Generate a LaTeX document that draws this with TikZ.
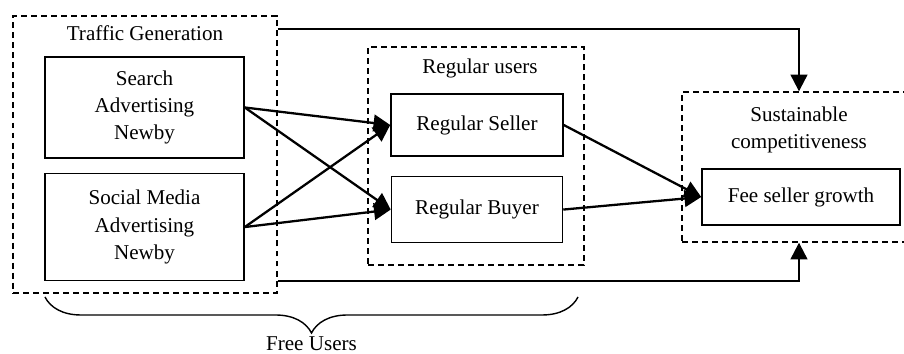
\documentclass[tikz,border=0pt]{standalone}
\usepackage{fontspec}
\setmainfont{Liberation Serif}
\usetikzlibrary{arrows.meta, positioning, decorations.pathreplacing}

\begin{document}
\begin{tikzpicture}[
    x=0.02cm, y=-0.02cm,
    font=\fontsize{12}{15.5}\selectfont,
    box/.style={rectangle, draw, line width=0.9pt, align=center, inner sep=0pt},
    group/.style={rectangle, draw, dash pattern=on 3.4pt off 2.3pt, line width=0.8pt, inner sep=0pt},
    arrow/.style={-{Triangle[length=9.5pt, width=9.5pt]}, line width=1.3pt}
]
\useasboundingbox (0,0) rectangle (904,354);

% dashed groups
\node[group, minimum width=5.28cm, minimum height=5.54cm] (traffic) at (145,154.5) {};
\node[group, minimum width=4.32cm, minimum height=4.36cm] (regular) at (476,156) {};
\node[group, minimum width=4.68cm, minimum height=3.0cm] (sustain) at (799,167) {};

\node (traffictitle) at (145,33) {Traffic Generation};
\node (regulartitle) at (480,68) {Regular users};
\node[align=center] (sustaintitle) at (799,130) {Sustainable\\competitiveness};

% boxes
\node[box, minimum width=3.98cm, minimum height=2.02cm] (search) at (144.5,107.5) {Search\\Advertising\\Newby};
\node[box, minimum width=3.98cm, minimum height=2.14cm, below=0.28cm of search] (social) {Social Media\\Advertising\\Newby};
\node[box, minimum width=3.44cm, minimum height=1.24cm] (seller) at (477,125) {Regular Seller};
\node[box, minimum width=3.42cm, minimum height=1.32cm, below=0.38cm of seller] (buyer) {Regular Buyer};
\node[box, minimum width=3.96cm, minimum height=1.12cm] (fee) at (801,197) {Fee seller growth};

% connectors
\draw[arrow] (search.east) -- (seller.west);
\draw[arrow] (search.east) -- (buyer.west);
\draw[arrow] (social.east) -- (seller.west);
\draw[arrow] (social.east) -- (buyer.west);
\draw[arrow] (seller.east) -- (fee.west);
\draw[arrow] (buyer.east) -- (fee.west);
\draw[arrow] ([yshift=-0.28cm]traffic.north east) -| (sustain.north);
\draw[arrow] ([yshift=0.26cm]traffic.south east) -| (sustain.south);

% brace
\coordinate (bracel) at (45,297);
\coordinate (bracer) at (578,297);
\draw[decorate, decoration={brace, mirror, amplitude=0.72cm}, line width=0.8pt] (bracel) -- (bracer);
\node (free) at (311.5,344) {Free Users};

\end{tikzpicture}
\end{document}
